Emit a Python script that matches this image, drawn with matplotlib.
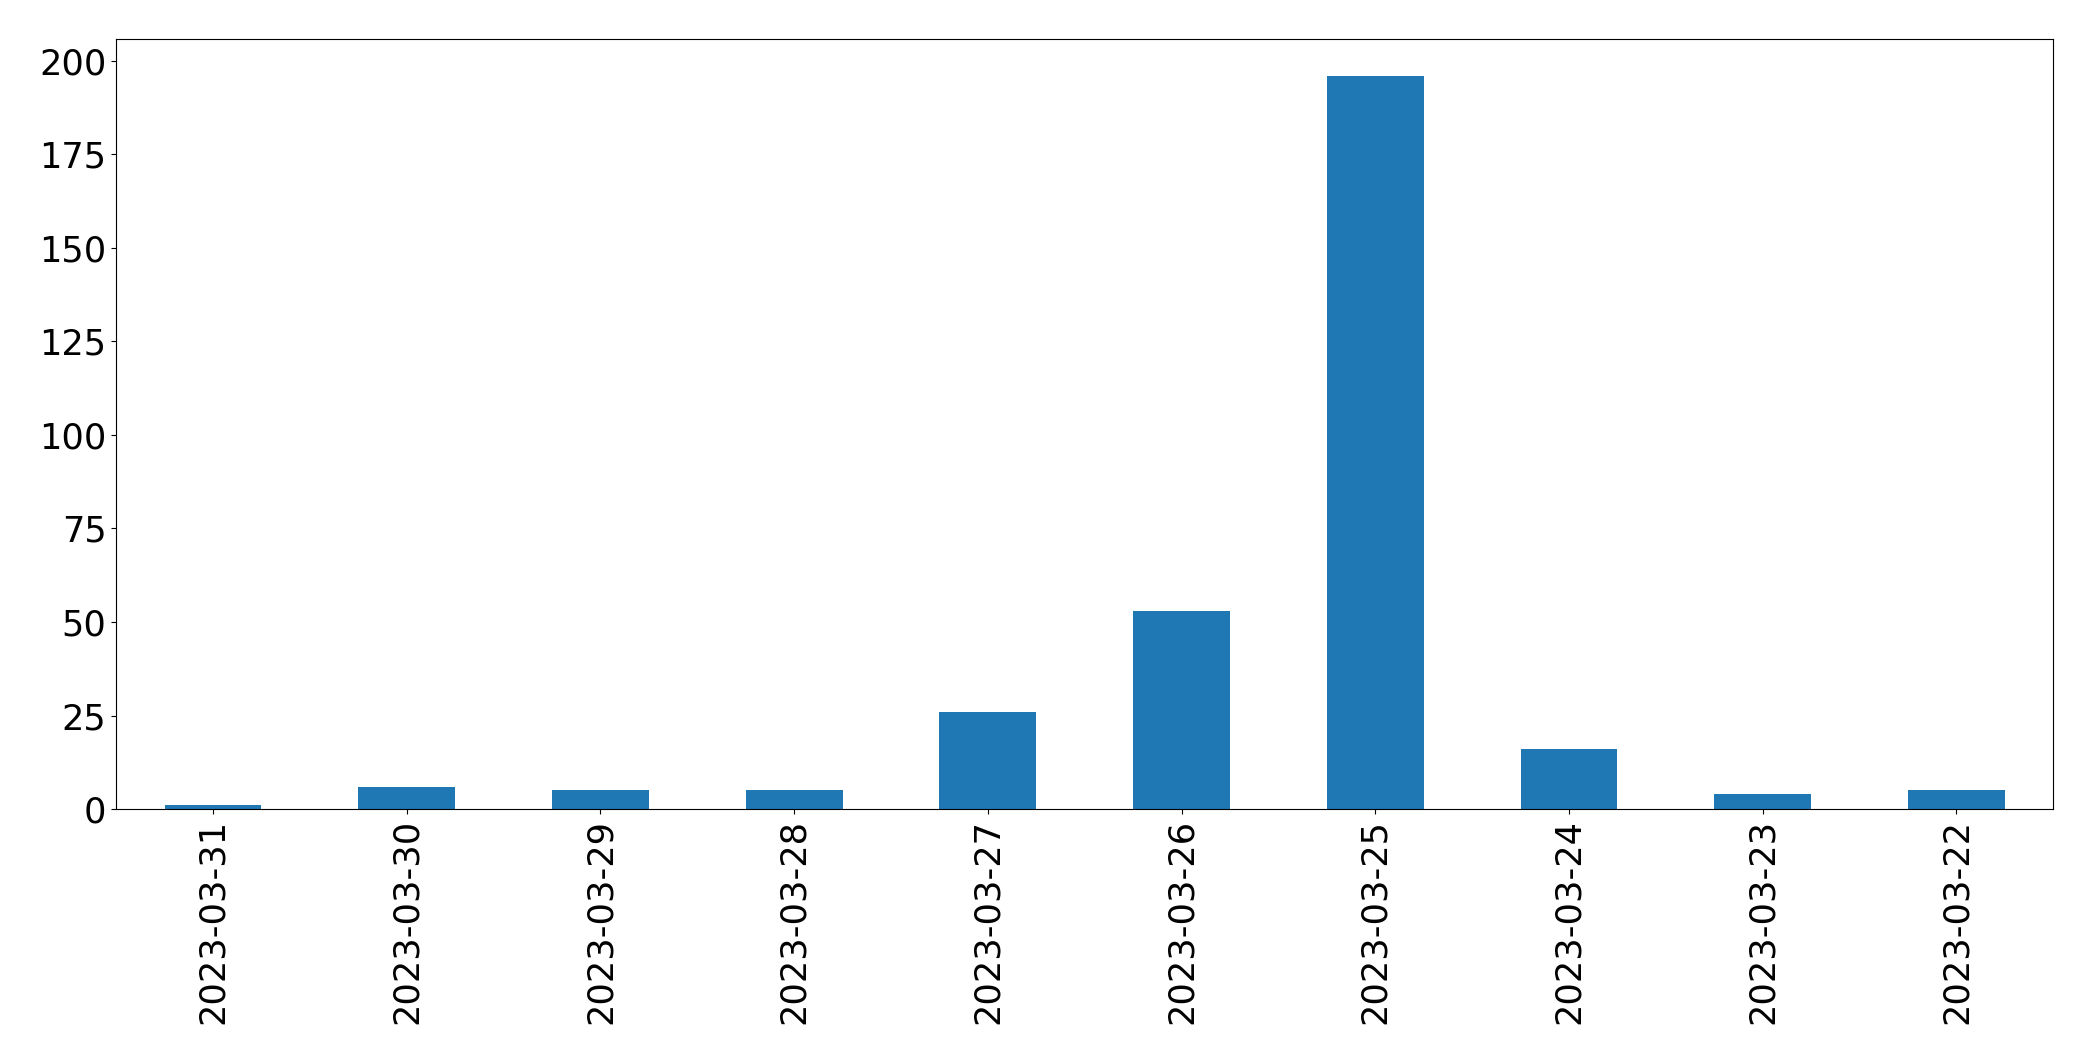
import matplotlib
matplotlib.use('Agg')
import matplotlib.pyplot as plt

dates = ['2023-03-31', '2023-03-30', '2023-03-29', '2023-03-28', '2023-03-27',
         '2023-03-26', '2023-03-25', '2023-03-24', '2023-03-23', '2023-03-22']
counts = [1, 6, 5, 5, 26, 53, 196, 16, 4, 5]

fig, ax = plt.subplots(figsize=(20.93, 10.61), dpi=100)
x = range(len(dates))
ax.bar(x, counts, width=0.5, color='#1f77b4')
ax.set_xticks(list(x))
ax.set_xticklabels(dates, rotation=90)
ax.set_xlim(-0.5, len(dates) - 0.5)
ax.tick_params(labelsize=25.3)
plt.subplots_adjust(left=0.0555, right=0.981, top=0.963, bottom=0.2375)
plt.savefig('out.png')
